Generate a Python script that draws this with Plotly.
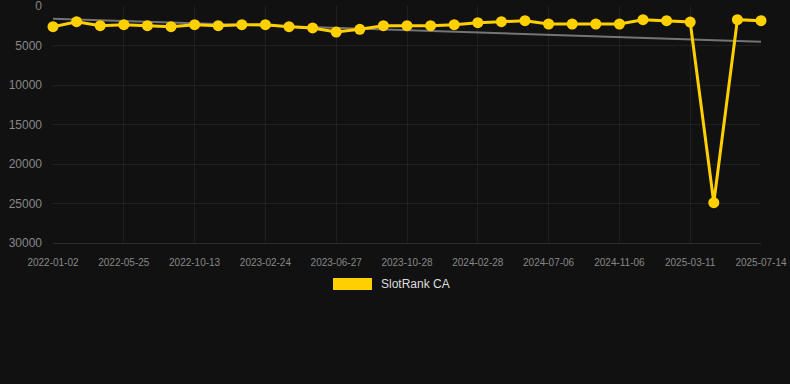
import numpy as np
import plotly.graph_objects as go

dates = [
    "2022-01-02", "2022-02-19", "2022-04-07", "2022-05-25", "2022-07-11", "2022-08-27",
    "2022-10-13", "2022-11-26", "2023-01-10", "2023-02-24", "2023-04-05", "2023-05-16",
    "2023-06-27", "2023-08-07", "2023-09-17", "2023-10-28", "2023-12-08", "2024-01-18",
    "2024-02-28", "2024-04-11", "2024-05-24", "2024-07-06", "2024-08-16", "2024-09-26",
    "2024-11-06", "2024-12-18", "2025-01-28", "2025-03-11", "2025-04-21", "2025-06-02",
    "2025-07-14",
]
rank_ca = [
    2620, 1990, 2490, 2370, 2490, 2620, 2370, 2490, 2370, 2370,
    2620, 2780, 3290, 2950, 2490, 2490, 2490, 2370, 2110, 1990,
    1860, 2280, 2280, 2280, 2280, 1730, 1860, 2030, 24900, 1730,
    1860,
]
tick_labels = dates[::3]
y_ticks = [0, 5000, 10000, 15000, 20000, 25000, 30000]
series_name = "SlotRank CA"

idx = np.arange(len(rank_ca))
slope, intercept = np.polyfit(idx, rank_ca, 1)
trend = list(slope * idx + intercept)

fig = go.Figure()
fig.add_trace(go.Scatter(
    x=dates, y=trend, mode="lines",
    line=dict(color="rgba(150,150,150,0.75)", width=2),
    showlegend=False, hoverinfo="skip", cliponaxis=False,
))
fig.add_trace(go.Scatter(
    x=dates, y=rank_ca, mode="lines+markers", name=series_name,
    line=dict(color="#FFD000", width=3),
    marker=dict(color="#FFD000", size=11),
    showlegend=False, cliponaxis=False,
))

W, H = 790, 384
L, R, T, B = 53, 29, 6, 141
pw, ph = W - L - R, H - T - B

def px(x):
    return (x - L) / pw

def py(y):
    return (H - B - y) / ph

fig.add_shape(type="rect", xref="paper", yref="paper",
              x0=px(333), x1=px(372), y0=py(290), y1=py(278),
              fillcolor="#FFD000", line=dict(width=0))
fig.add_annotation(xref="paper", yref="paper", x=px(379), y=py(284),
                   text=series_name, showarrow=False, xanchor="left", yanchor="middle",
                   font=dict(color="#dddddd", size=12, family="Liberation Sans, Arial, sans-serif"))

fig.update_layout(
    width=W, height=H,
    margin=dict(l=L, r=R, t=T, b=B, pad=0, autoexpand=False),
    paper_bgcolor="#111111", plot_bgcolor="#111111",
    font=dict(family="Liberation Sans, Arial, sans-serif", color="#888888"),
    showlegend=False,
    xaxis=dict(
        type="category", range=[0, len(dates) - 1], automargin=False,
        tickmode="array", tickvals=tick_labels, ticktext=tick_labels,
        showgrid=True, gridcolor="rgba(255,255,255,0.06)", gridwidth=1,
        showline=True, linecolor="rgba(255,255,255,0.12)", linewidth=1,
        zeroline=False, ticks="", tickfont=dict(size=10, color="#888888"),
        tickangle=0, ticklabelstandoff=10, ticklabeloverflow="allow",
    ),
    yaxis=dict(
        range=[30000, 0], tickmode="array", tickvals=y_ticks, automargin=False,
        ticktext=[str(v) for v in y_ticks],
        showgrid=True, gridcolor="rgba(255,255,255,0.06)", gridwidth=1,
        zeroline=False, showline=False, ticks="", tickfont=dict(size=12, color="#888888"),
        ticklabelstandoff=10, ticklabeloverflow="allow",
    ),
)

fig.write_html(
    "out.html",
    config={"displayModeBar": False},
    post_script="document.body.style.margin='0';document.body.style.background='#111111';",
)
